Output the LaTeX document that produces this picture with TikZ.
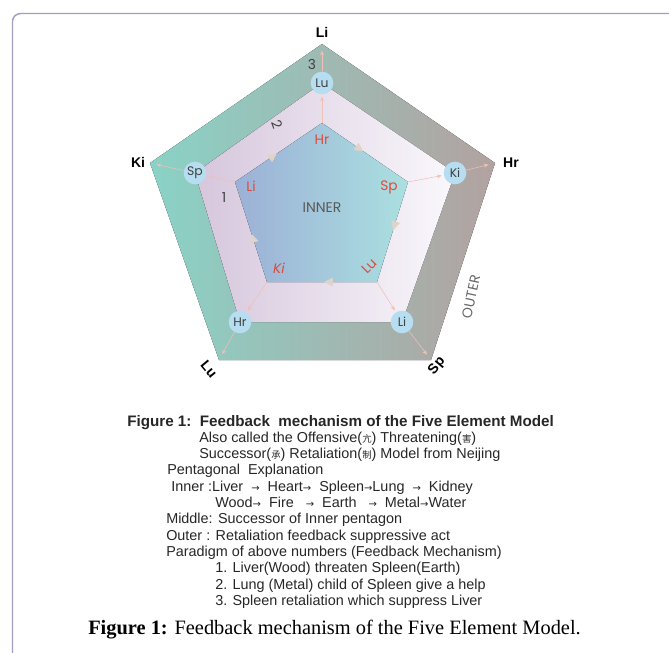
\documentclass[tikz,border=0pt]{standalone}
\usepackage{fontspec}
\setmainfont{Liberation Sans}
\newfontfamily\gothic{Poppins}
\newfontfamily\capserif{Liberation Serif}
\newfontfamily\cjk{Noto Sans CJK SC}
\newfontfamily\arrowfont{DejaVu Sans}
\usepackage{tikz}
\usetikzlibrary{arrows.meta,decorations.markings}

\definecolor{outerL}{RGB}{138,210,198}
\definecolor{outerR}{RGB}{178,162,160}
\definecolor{midL}{RGB}{214,198,220}
\definecolor{midR}{RGB}{250,248,252}
\definecolor{innerL}{RGB}{156,176,214}
\definecolor{innerR}{RGB}{170,224,224}
\definecolor{bubblec}{RGB}{182,222,240}
\definecolor{redlab}{RGB}{222,74,60}
\definecolor{feedc}{RGB}{240,192,182}
\definecolor{tipc}{RGB}{224,212,200}
\definecolor{framec}{RGB}{162,158,194}

\newcommand{\ra}{{\arrowfont\fontsize{7.5}{8}\selectfont →}}
\newcommand{\zh}[1]{{\cjk\fontsize{7}{8}\selectfont #1}}

\begin{document}
\begin{tikzpicture}[x=0.75pt,y=0.75pt,yscale=-1,xscale=1,
  bubble/.style={circle, fill=bubblec, inner sep=0pt, minimum size=17pt, text=black!75, font=\gothic\fontsize{9.3}{10}\selectfont},
  outerlab/.style={inner sep=0pt, font=\bfseries\fontsize{10.5}{11}\selectfont},
  innerlab/.style={inner sep=0pt, text=redlab, font=\gothic\fontsize{10.3}{11}\selectfont},
  numlab/.style={inner sep=0pt, text=black!75, font=\gothic\fontsize{10.3}{11}\selectfont},
  feed/.style={draw=feedc, line width=0.4pt, -{Stealth[length=3.5pt,width=3pt]}, shorten >=1.5pt},
  cycletip/.style={postaction={decorate}, decoration={markings, mark=at position 0.48 with {\arrow{Triangle[length=6.5pt,width=6.5pt,color=tipc]}}}},
  textline/.style={anchor=base west, inner sep=0pt, text=black!85, font=\fontsize{10.8}{12}\selectfont}
]
\path [use as bounding box] (0,0) rectangle (669,653);

%Shape: Frame
\draw [draw=framec, line width=1.1pt, rounded corners=6] (12.5,653) -- (12.5,13.5) -- (669,13.5) ;

% Corners of the three pentagons
\coordinate (oLi) at (322,44);
\coordinate (oHr) at (495,163);
\coordinate (oSp) at (431,360);
\coordinate (oLu) at (219,360);
\coordinate (oKi) at (150,163);
\coordinate (mLu) at (322,83);
\coordinate (mKi) at (455,173);
\coordinate (mLi) at (402,322);
\coordinate (mHr) at (240,322);
\coordinate (mSp) at (195,173);
\coordinate (iHr) at (322,123);
\coordinate (iSp) at (408,182);
\coordinate (iLu) at (377,282);
\coordinate (iKi) at (267,282);
\coordinate (iLi) at (235,182);

%Shape: Outer pentagon
\fill [left color=outerL, right color=outerR] (oLi) -- (oHr) -- (oSp) -- (oLu) -- (oKi) -- cycle ;
%Shape: Middle pentagon
\fill [left color=midL, right color=midR] (mLu) -- (mKi) -- (mLi) -- (mHr) -- (mSp) -- cycle ;
%Shape: Inner pentagon
\fill [left color=innerL, right color=innerR] (iHr) -- (iSp) -- (iLu) -- (iKi) -- (iLi) -- cycle ;

%Inner cycle arrowheads
\path [cycletip] (iLi) -- (iHr) ;
\path [cycletip] (iHr) -- (iSp) ;
\path [cycletip] (iSp) -- (iLu) ;
\path [cycletip] (iLu) -- (iKi) ;
\path [cycletip] (iKi) -- (iLi) ;

%Shape: Circles
\node [bubble] (cLu) at (mLu) {Lu};
\node [bubble] (cKi) at (mKi) {Ki};
\node [bubble] (cLi) at (mLi) {Li};
\node [bubble] (cHr) at (mHr) {Hr};
\node [bubble] (cSp) at (mSp) {Sp};

%Straight Lines: inner to middle
\draw [feed] (iHr) -- (cLu) ;
\draw [feed] (iSp) -- (cKi) ;
\draw [feed] (iLu) -- (cLi) ;
\draw [feed] (iKi) -- (cHr) ;
\draw [feed] (iLi) -- (cSp) ;
%Straight Lines: middle to outer
\draw [feed, shorten >=5pt] (cLu) -- (oLi) ;
\draw [feed, shorten >=5pt] (cKi) -- (oHr) ;
\draw [feed, shorten >=5pt] (cLi) -- (oSp) ;
\draw [feed, shorten >=5pt] (cHr) -- (oLu) ;
\draw [feed, shorten >=5pt] (cSp) -- (oKi) ;

% Text Node
\node [outerlab] (tLi) at (322,32) {Li};
\node [outerlab] (tHr) at (511,163) {Hr};
\node [outerlab, rotate=50] (tSp) at (437,366) {Sp};
\node [outerlab, rotate=-50] (tLu) at (209,369) {Lu};
\node [outerlab] (tKi) at (138,162) {Ki};
% Text Node
\node [innerlab] (rHr) at (322,140) {Hr};
\node [innerlab] (rSp) at (389,187) {Sp};
\node [innerlab, rotate=45] (rLu) at (369,266) {Lu};
\node [innerlab, font=\gothic\itshape\fontsize{10.3}{11}\selectfont] (rKi) at (279,268) {Ki};
\node [innerlab] (rLi) at (251,186) {Li};
% Text Node
\node [numlab] (n3) at (312,64) {3};
\node [numlab, rotate=-70] (n2) at (277,124) {2};
\node [numlab] (n1) at (224,198) {1};
\node [numlab, text=black!65, font=\gothic\fontsize{10.5}{11}\selectfont] (inner) at (322,208) {INNER};
\node [numlab, text=black!60, font=\gothic\fontsize{10.5}{11}\selectfont, rotate=78] (outer) at (471,297) {OUTER};

% Text Node
\node [textline, font=\bfseries\fontsize{11.4}{12}\selectfont] (t1) at (127,426) {Figure 1:\ \ Feedback\ \ mechanism of the Five Element Model};
\node [textline] (t2) at (199,442.3) {Also called the Offensive(\zh{亢}) Threatening(\zh{害})};
\node [textline] (t3) at (199,458.6) {Successor(\zh{承}) Retaliation(\zh{制}) Model from Neijing};
\node [textline] (t4) at (167,474.9) {Pentagonal\ \ Explanation};
\node [textline] (t5) at (171,491.2) {Inner :Liver \ \ra\ \ Heart\ra\ \ Spleen\ra Lung \ \ra\ \ Kidney};
\node [textline] (t6) at (215,507.5) {Wood\ra\ \ Fire \ \ \ra\ \ Earth \ \ \ra\ \ Metal\ra Water};
\node [textline] (t7) at (166,523.8) {Middle: Successor of Inner pentagon};
\node [textline] (t8) at (166,540.1) {Outer : Retaliation feedback suppressive act};
\node [textline] (t9) at (166,556.4) {Paradigm of above numbers (Feedback Mechanism)};
\node [textline] (t10) at (215,572.7) {1. Liver(Wood) threaten Spleen(Earth)};
\node [textline] (t11) at (215,589) {2. Lung (Metal) child of Spleen give a help};
\node [textline] (t12) at (215,605.3) {3. Spleen retaliation which suppress Liver};
% Text Node
\node [inner sep=0pt, anchor=base, font=\capserif\fontsize{15.3}{17}\selectfont] (caption) at (334.5,634) {\textbf{Figure 1:} Feedback mechanism of the Five Element Model.};

\end{tikzpicture}
\end{document}
